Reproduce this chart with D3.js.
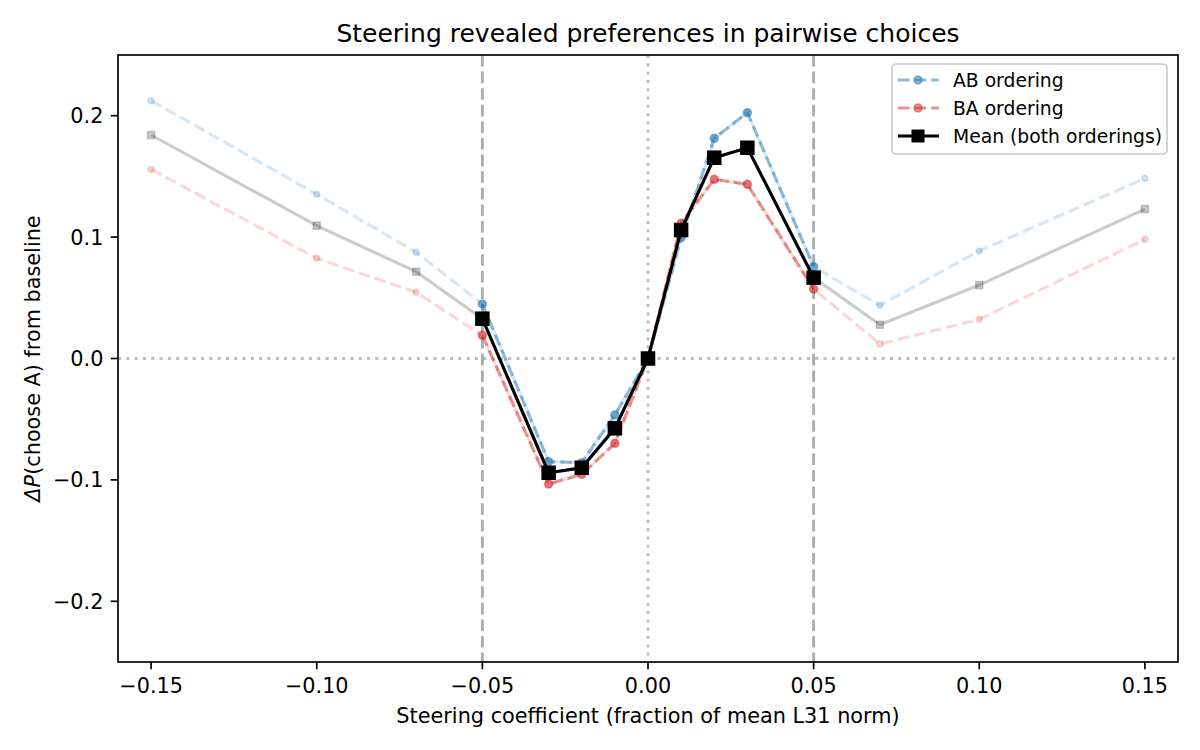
<!DOCTYPE html>
<html>
<head>
<meta charset="utf-8">
<script src="https://cdn.jsdelivr.net/npm/d3@7"></script>
<style>
  html, body { margin: 0; padding: 0; background: #fff; }
  svg { display: block; font-family: "DejaVu Sans", sans-serif; }
</style>
</head>
<body>
<svg id="chart" width="1200" height="750"></svg>
<script>
// ---- data ----
const coefs = [-0.15, -0.10, -0.07, -0.05, -0.03, -0.02, -0.01, 0.00, 0.01, 0.02, 0.03, 0.05, 0.07, 0.10, 0.15];
const abValues = [0.2124, 0.1353, 0.0875, 0.0449, -0.0850, -0.0858, -0.0465, 0.0, 0.0995, 0.1814, 0.2025, 0.0756, 0.0438, 0.0886, 0.1484];
const baValues = [0.1558, 0.0825, 0.0545, 0.0191, -0.1034, -0.0954, -0.0699, 0.0, 0.1114, 0.1476, 0.1435, 0.0572, 0.0119, 0.0323, 0.0982];
const meanValues = [0.1841, 0.1094, 0.0715, 0.0328, -0.0941, -0.0900, -0.0575, 0.0, 0.1058, 0.1654, 0.1736, 0.0666, 0.0278, 0.0605, 0.1231];
const xTicks = [-0.15, -0.10, -0.05, 0.00, 0.05, 0.10, 0.15];
const yTicks = [-0.2, -0.1, 0.0, 0.1, 0.2];
const refLines = [-0.05, 0.05];
const innerRange = [-0.05, 0.05];
const seriesNames = ["AB ordering", "BA ordering", "Mean (both orderings)"];
const titleText = "Steering revealed preferences in pairwise choices";
const xLabel = "Steering coefficient (fraction of mean L31 norm)";

// ---- layout ----
const svg = d3.select("#chart");
const L = 118, R = 1178, T = 55, B = 662;
const x = d3.scaleLinear().domain([-0.16, 0.16]).range([L, R]);
const y = d3.scaleLinear().domain([-0.25, 0.25]).range([B, T]);
const lw = 3.125;
const blue = "#1f77b4", red = "#d62728";
const fmtMinus = s => s.replace("-", "\u2212");

// reference lines
const g = svg.append("g");
refLines.forEach(v => {
  g.append("line").attr("x1", x(v)).attr("x2", x(v)).attr("y1", T).attr("y2", B)
    .attr("stroke", "#808080").attr("stroke-opacity", 0.65).attr("stroke-width", 2.8)
    .attr("stroke-dasharray", "11.6,5");
});
g.append("line").attr("x1", x(0)).attr("x2", x(0)).attr("y1", T).attr("y2", B)
  .attr("stroke", "#808080").attr("stroke-opacity", 0.5).attr("stroke-width", 2.8)
  .attr("stroke-dasharray", "3.1,5.2");
g.append("line").attr("x1", L).attr("x2", R).attr("y1", y(0)).attr("y2", y(0))
  .attr("stroke", "#808080").attr("stroke-opacity", 0.5).attr("stroke-width", 2.8)
  .attr("stroke-dasharray", "3.1,5.2");

const allPts = vals => coefs.map((c, i) => [c, vals[i]]);
const innerPts = vals => coefs.map((c, i) => [c, vals[i]]).filter(d => d[0] >= innerRange[0] - 1e-9 && d[0] <= innerRange[1] + 1e-9);
const line = d3.line().x(d => x(d[0])).y(d => y(d[1]));

function drawSeries(pts, color, alpha, dashed, marker, msize, strokeW) {
  const grp = svg.append("g");
  grp.append("path").attr("d", line(pts)).attr("fill", "none")
    .attr("stroke", color).attr("stroke-opacity", alpha).attr("stroke-width", lw)
    .attr("stroke-dasharray", dashed ? "11.6,5" : null);
  pts.forEach(d => {
    if (marker === "circle") {
      grp.append("circle").attr("cx", x(d[0])).attr("cy", y(d[1])).attr("r", msize / 2)
        .attr("fill", color).attr("fill-opacity", alpha)
        .attr("stroke", color).attr("stroke-opacity", alpha).attr("stroke-width", strokeW);
    } else {
      grp.append("rect").attr("x", x(d[0]) - msize / 2).attr("y", y(d[1]) - msize / 2)
        .attr("width", msize).attr("height", msize)
        .attr("fill", color).attr("fill-opacity", alpha)
        .attr("stroke", color).attr("stroke-opacity", alpha).attr("stroke-width", strokeW);
    }
  });
}

// faded full series
drawSeries(allPts(abValues), blue, 0.18, true, "circle", 6, 1.5);
drawSeries(allPts(baValues), red, 0.18, true, "circle", 6, 1.5);
drawSeries(allPts(meanValues), "#000", 0.2, false, "square", 7, 1.5);
// inner emphasised series
drawSeries(innerPts(abValues), blue, 0.5, true, "circle", 8, 1.5);
drawSeries(innerPts(baValues), red, 0.5, true, "circle", 8, 1.5);
drawSeries(innerPts(meanValues), "#000", 1, false, "square", 13, 1.5);

// axes spines
svg.append("rect").attr("x", L).attr("y", T).attr("width", R - L).attr("height", B - T)
  .attr("fill", "none").attr("stroke", "#000").attr("stroke-width", 1.67);

// x ticks
const xAxis = svg.append("g");
xTicks.forEach(v => {
  xAxis.append("line").attr("x1", x(v)).attr("x2", x(v)).attr("y1", B).attr("y2", B + 7.3)
    .attr("stroke", "#000").attr("stroke-width", 1.67);
  xAxis.append("text").attr("x", x(v)).attr("y", B + 7.3 + 7.3 + 16)
    .attr("text-anchor", "middle").attr("font-size", "20.8px").attr("fill", "#000")
    .text(fmtMinus(d3.format(".2f")(v)));
});
// y ticks
const yAxis = svg.append("g");
yTicks.forEach(v => {
  yAxis.append("line").attr("x1", L - 7.3).attr("x2", L).attr("y1", y(v)).attr("y2", y(v))
    .attr("stroke", "#000").attr("stroke-width", 1.67);
  yAxis.append("text").attr("x", L - 7.3 - 7.3).attr("y", y(v)).attr("dy", "0.36em")
    .attr("text-anchor", "end").attr("font-size", "20.8px").attr("fill", "#000")
    .text(fmtMinus(d3.format(".1f")(v)));
});

// labels
svg.append("text").attr("x", (L + R) / 2).attr("y", 723).attr("text-anchor", "middle")
  .attr("font-size", "20.8px").text(xLabel);
const yl = svg.append("text").attr("transform", `translate(40,${(T + B) / 2}) rotate(-90)`)
  .attr("text-anchor", "middle").attr("font-size", "20.8px");
yl.append("tspan").attr("font-style", "italic").text("\u0394P");
yl.append("tspan").text("(choose A) from baseline");
svg.append("text").attr("x", (L + R) / 2).attr("y", 42).attr("text-anchor", "middle")
  .attr("font-size", "25px").text(titleText);

// legend
const lg = svg.append("g");
lg.append("rect").attr("x", 892).attr("y", 64).attr("width", 275).attr("height", 90)
  .attr("rx", 4).attr("fill", "#fff").attr("fill-opacity", 0.8)
  .attr("stroke", "#cccccc").attr("stroke-width", 1.67);
const legendRows = [
  { name: seriesNames[0], color: blue, alpha: 0.5, dashed: true, marker: "circle", size: 8 },
  { name: seriesNames[1], color: red, alpha: 0.5, dashed: true, marker: "circle", size: 8 },
  { name: seriesNames[2], color: "#000", alpha: 1, dashed: false, marker: "square", size: 13 }
];
const rowY = [80, 108, 136];
legendRows.forEach((r, i) => {
  const cy = rowY[i];
  lg.append("line").attr("x1", 898).attr("x2", 939).attr("y1", cy).attr("y2", cy)
    .attr("stroke", r.color).attr("stroke-opacity", r.alpha).attr("stroke-width", lw)
    .attr("stroke-dasharray", r.dashed ? "11.6,5" : null);
  if (r.marker === "circle") {
    lg.append("circle").attr("cx", 918).attr("cy", cy).attr("r", r.size / 2)
      .attr("fill", r.color).attr("fill-opacity", r.alpha)
      .attr("stroke", r.color).attr("stroke-opacity", r.alpha).attr("stroke-width", 1.5);
  } else {
    lg.append("rect").attr("x", 918 - r.size / 2).attr("y", cy - r.size / 2)
      .attr("width", r.size).attr("height", r.size).attr("fill", r.color);
  }
  lg.append("text").attr("x", 953).attr("y", cy).attr("dy", "0.36em")
    .attr("font-size", "18.75px").text(r.name);
});
</script>
</body>
</html>
